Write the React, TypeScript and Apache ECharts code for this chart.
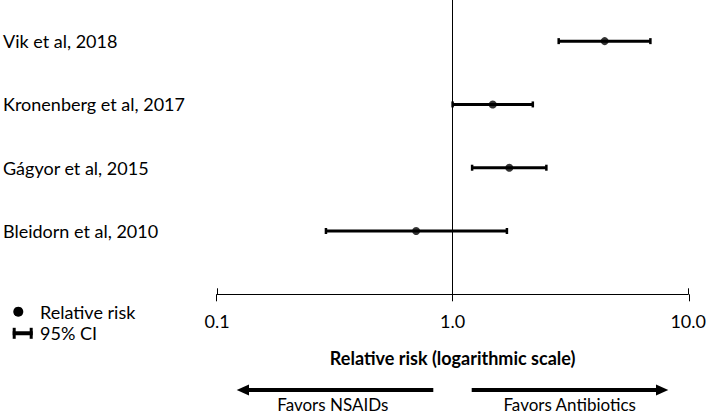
import React, { useEffect, useRef } from "react";
import * as echarts from "echarts";

const studies = ["Vik et al, 2018", "Kronenberg et al, 2017", "Gágyor et al, 2015", "Bleidorn et al, 2010"];
const relativeRisk = [4.42, 1.48, 1.74, 0.7];
const ciLow = [2.82, 1.0, 1.21, 0.29];
const ciHigh = [6.91, 2.19, 2.5, 1.7];
const xTicks = [0.1, 1, 10];
const legendLabels = ["Relative risk", "95% CI"];
const axisTitle = "Relative risk (logarithmic scale)";
const favorLabels = ["Favors NSAIDs", "Favors Antibiotics"];

const FONT = "Lato";

export default function App() {
  const ref = useRef<HTMLDivElement>(null);
  useEffect(() => {
    document.body.style.margin = "0";
    const chart = echarts.init(ref.current!, null, { renderer: "svg" });
    const n = studies.length;
    const rowOf = (i: number) => n - i;
    const pointData = relativeRisk.map((v, i) => [v, rowOf(i)]);
    const ciData = ciLow.map((lo, i) => [lo, ciHigh[i], rowOf(i)]);
    const gridPos = { left: 216.3, right: 20, top: 0, bottom: 119.7 };
    const txt = { fontFamily: FONT, fontSize: 18, fill: "#000" };

    chart.setOption({
      animation: false,
      grid: [gridPos, gridPos],
      xAxis: [
        {
          type: "log",
          logBase: 10,
          min: xTicks[0],
          max: xTicks[xTicks.length - 1],
          gridIndex: 0,
          axisLine: { show: true, lineStyle: { color: "#000", width: 1 } },
          axisTick: { show: true, inside: true, length: 6, lineStyle: { color: "#000", width: 1 } },
          axisLabel: {
            show: true,
            margin: 18,
            fontFamily: FONT,
            fontSize: 18,
            color: "#000",
            formatter: (v: number) => Number(v).toFixed(1),
          },
          splitLine: { show: false },
          name: axisTitle,
          nameLocation: "middle",
          nameGap: 55,
          nameTextStyle: { fontFamily: FONT, fontSize: 18, fontWeight: "bold", color: "#000" },
        },
        {
          type: "log",
          logBase: 10,
          min: xTicks[0],
          max: xTicks[xTicks.length - 1],
          gridIndex: 1,
          axisLine: { show: false },
          axisTick: { show: true, inside: false, length: 7, lineStyle: { color: "#000", width: 1 } },
          axisLabel: { show: false },
          splitLine: { show: false },
        },
      ],
      yAxis: [
        {
          type: "value",
          min: 0,
          max: 4.65,
          interval: 1,
          gridIndex: 0,
          axisLine: { show: false },
          axisTick: { show: false },
          splitLine: { show: false },
          axisLabel: {
            show: true,
            align: "left",
            margin: 214,
            fontFamily: FONT,
            fontSize: 18,
            color: "#000",
            formatter: (v: number) => {
              const idx = n - v;
              return Number.isInteger(v) && idx >= 0 && idx < n ? studies[idx] : "";
            },
          },
        },
        { type: "value", min: 0, max: 4.65, gridIndex: 1, show: false },
      ],
      series: [
        {
          type: "custom",
          xAxisIndex: 0,
          yAxisIndex: 0,
          data: ciData,
          encode: { x: [0, 1], y: 2 },
          renderItem: (params: any, api: any) => {
            const lo = api.value(0);
            const hi = api.value(1);
            const y = api.value(2);
            const p1 = api.coord([lo, y]);
            const p2 = api.coord([hi, y]);
            return {
              type: "group",
              children: [
                { type: "line", shape: { x1: p1[0], y1: p1[1], x2: p2[0], y2: p2[1] }, style: { stroke: "#000", lineWidth: 3 } },
                { type: "rect", shape: { x: p1[0] - 1.25, y: p1[1] - 3, width: 2.5, height: 6 }, style: { fill: "#000" } },
                { type: "rect", shape: { x: p2[0] - 1.25, y: p2[1] - 3, width: 2.5, height: 6 }, style: { fill: "#000" } },
              ],
            };
          },
          z: 2,
        },
        {
          type: "scatter",
          xAxisIndex: 0,
          yAxisIndex: 0,
          data: pointData,
          symbol: "circle",
          symbolSize: 8,
          itemStyle: { color: "#000" },
          z: 3,
          markLine: {
            silent: true,
            symbol: ["none", "none"],
            label: { show: false },
            lineStyle: { color: "#000", width: 1, type: "solid" },
            data: [{ xAxis: 1 }],
          },
        },
      ],
      graphic: [
        { type: "circle", shape: { cx: 18.3, cy: 311.7, r: 5 }, style: { fill: "#000" } },
        { type: "text", x: 40, y: 311.7, style: { ...txt, text: legendLabels[0], verticalAlign: "middle" } },
        { type: "rect", shape: { x: 12.7, y: 327.8, width: 3, height: 11 }, style: { fill: "#000" } },
        { type: "rect", shape: { x: 29.7, y: 327.8, width: 3, height: 11 }, style: { fill: "#000" } },
        { type: "rect", shape: { x: 12.7, y: 331.3, width: 20, height: 4 }, style: { fill: "#000" } },
        { type: "text", x: 40, y: 333.3, style: { ...txt, text: legendLabels[1], verticalAlign: "middle" } },
        { type: "rect", shape: { x: 247, y: 388, width: 186.3, height: 4 }, style: { fill: "#000" } },
        { type: "polygon", shape: { points: [[236.7, 390], [249, 384.5], [249, 395.5]] }, style: { fill: "#000" } },
        { type: "rect", shape: { x: 471.7, y: 388, width: 186, height: 4 }, style: { fill: "#000" } },
        { type: "polygon", shape: { points: [[668.3, 390], [656, 384.5], [656, 395.5]] }, style: { fill: "#000" } },
        { type: "text", x: 332.8, y: 404, style: { ...txt, fontSize: 17, text: favorLabels[0], align: "center", verticalAlign: "middle" } },
        { type: "text", x: 569.7, y: 404, style: { ...txt, fontSize: 17, text: favorLabels[1], align: "center", verticalAlign: "middle" } },
      ],
    });
    return () => chart.dispose();
  }, []);
  return <div ref={ref} style={{ width: 709, height: 414 }} />;
}
